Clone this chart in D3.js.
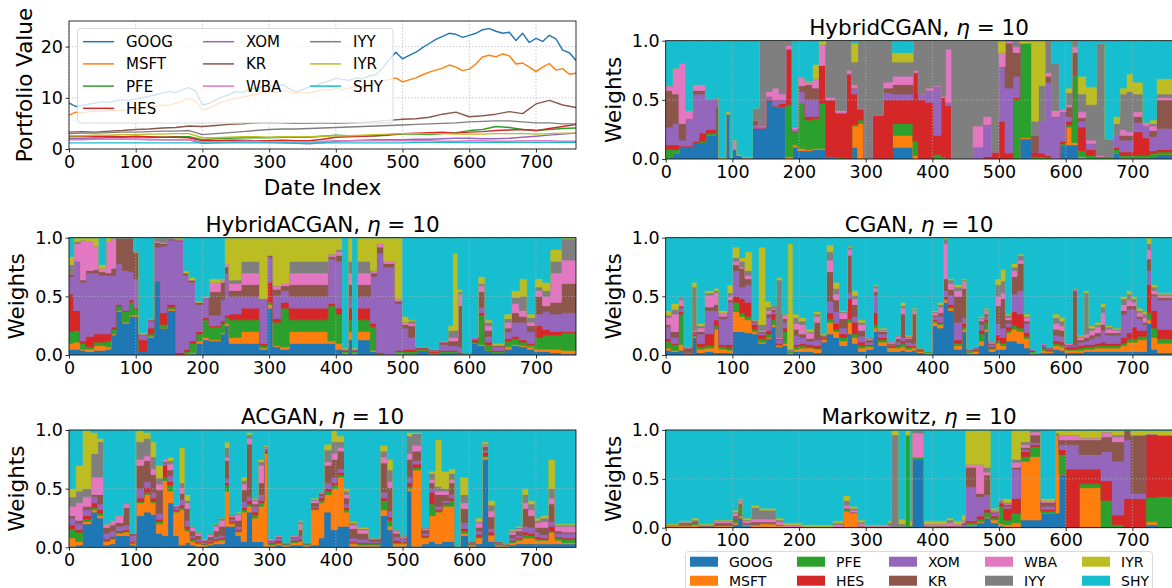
<!DOCTYPE html>
<html>
<head>
<meta charset="utf-8">
<script src="https://cdn.jsdelivr.net/npm/d3@7"></script>
<style>
  body { margin: 0; background: #fff; }
  svg { font-family: "DejaVu Sans", sans-serif; }
</style>
</head>
<body>
<svg id="fig" width="1172" height="588"></svg>
<script>
// ---------- assets ----------
const assets = ["GOOG", "MSFT", "PFE", "HES", "XOM", "KR", "WBA", "IYY", "IYR", "SHY"];
const assetColors = ["#1f77b4", "#ff7f0e", "#2ca02c", "#d62728", "#9467bd",
                     "#8c564b", "#e377c2", "#7f7f7f", "#bcbd22", "#17becf"];

// ---------- portfolio values (price paths) ----------
const days10 = d3.range(0, 761, 10);
const days20 = d3.range(0, 761, 20);

const valGOOG = [9.0,8.3,8.5,8.8,9.0,9.2,9.1,9.4,9.6,9.5, 9.8,10.0,10.3,10.6,10.9,11.2,11.0,11.6,12.0,11.3,
  8.6,8.9,9.6,10.2,10.6,11.2,11.0,11.6,11.9,12.2, 12.4,12.1,12.6,11.8,11.2,11.6,12.1,12.4,12.9,13.3,
  13.8,13.6,13.4,13.9,13.7,14.3,14.5,15.8,17.5,18.9, 17.6,18.3,18.9,19.8,20.6,21.4,22.0,22.6,22.4,21.8,
  22.2,22.6,23.3,23.5,23.0,22.6,22.8,21.2,22.6,20.8, 21.6,21.0,22.2,21.5,19.3,18.8,17.3];
const valMSFT = [6.6,7.2,7.1,7.3,7.4,7.3,7.5,7.6,7.5,7.7, 7.8,7.9,8.1,8.3,8.6,8.5,8.9,9.4,9.9,9.3,
  7.6,8.0,8.6,9.2,9.6,9.9,10.1,10.4,10.7,11.0, 11.2,11.0,11.4,11.2,10.9,11.1,11.0,11.3,11.6,11.5,
  11.8,11.6,11.9,12.2,12.0,12.5,12.9,13.3,13.6,13.9, 13.1,13.5,13.9,14.5,15.0,15.4,15.8,16.4,16.0,15.3,
  15.6,16.6,18.0,18.3,18.0,18.6,18.2,16.6,16.8,16.0, 15.1,16.0,16.7,15.4,15.7,14.6,14.8];
const valPFE = [2.4,2.4,2.4,2.3,2.3,2.4,2.3,2.3,2.4,2.4, 1.8,2.0,2.1,2.2,2.2,2.2,2.3,2.3,2.3,2.5,
  2.7,2.6,2.6,2.6,2.7,2.9,2.9,2.8,3.0,3.2, 3.6,3.8,4.4,4.2,3.8,3.6,3.8,4.0,4.1];
const valHES = [2.6,2.5,2.4,2.5,2.4,2.5,2.4,2.3,2.3,2.2, 1.6,1.6,1.7,1.7,1.6,1.6,1.7,1.6,1.6,1.9,
  2.3,2.4,2.5,2.6,2.8,3.0,3.1,3.2,3.3,3.1, 3.3,3.4,3.6,3.7,3.8,3.6,4.0,4.4,4.8];
const valXOM = [2.0,2.0,2.0,1.9,1.9,1.9,1.8,1.8,1.8,1.8, 1.1,1.2,1.3,1.4,1.4,1.3,1.2,1.1,1.0,1.2,
  1.5,1.6,1.7,1.8,1.8,1.8,1.9,1.9,2.0,2.1, 2.1,2.0,2.0,2.1,2.3,2.5,2.7,2.9,3.1];
const valKR = [3.3,3.4,3.3,3.5,3.6,3.8,3.9,4.1,4.2,4.5, 4.4,4.6,4.8,4.9,5.1,5.2,5.1,5.0,5.0,5.1,
  5.0,5.1,5.2,5.4,5.6,5.8,5.9,6.2,6.8,7.2, 6.3,6.5,6.8,7.3,6.9,8.8,9.5,8.6,8.1];
const valWBA = [1.8,1.8,1.9,1.9,1.9,1.9,1.9,1.8,1.8,1.8, 1.4,1.4,1.4,1.5,1.5,1.4,1.4,1.4,1.4,1.5,
  1.6,1.6,1.6,1.6,1.6,1.6,1.6,1.6,1.5,1.5, 1.6,1.6,1.5,1.5,1.6,1.6,1.6,1.5,1.5];
const valIYY = [3.0,3.1,3.1,3.2,3.3,3.3,3.4,3.5,3.5,3.6, 2.8,3.0,3.2,3.4,3.6,3.8,3.9,3.9,4.0,4.1,
  4.2,4.3,4.4,4.5,4.6,4.7,4.8,4.9,5.0,5.1, 5.3,5.4,5.5,5.5,5.3,5.1,5.1,4.9,4.9];
const valIYR = [2.6,2.6,2.7,2.7,2.8,2.8,2.9,2.9,3.0,3.0, 2.2,2.2,2.3,2.4,2.4,2.3,2.4,2.4,2.4,2.5,
  2.6,2.6,2.7,2.8,2.9,3.0,3.0,3.0,3.0,2.9, 2.9,2.9,3.0,3.0,3.0,2.9,3.0,3.1,3.1];
const valSHY = [1.2,1.2,1.2,1.2,1.2,1.2,1.2,1.2,1.2,1.2, 1.2,1.2,1.2,1.2,1.2,1.2,1.2,1.2,1.2,1.2,
  1.2,1.2,1.2,1.2,1.2,1.2,1.3,1.3,1.3,1.3, 1.3,1.3,1.3,1.3,1.3,1.3,1.3,1.3,1.3];

// ---------- portfolio weights, in percent ----------
// each row: [first day of holding period, GOOG, MSFT, PFE, HES, XOM, KR, WBA, IYY, IYR, SHY]
const wHybridCGAN = [
  [0, 0,0,8,4,15,31,4,0,0,38], [5, 2,0,6,4,15,31,4,0,0,38], [10, 5,0,3,4,18,25,22,0,0,23],
  [20, 10,0,0,1,5,14,51,0,0,19], [30, 10,0,0,1,23,0,7,0,0,59], [40, 14,0,0,1,40,3,5,0,0,37],
  [50, 14,0,1,7,33,3,5,0,0,37], [60, 20,0,2,3,26,0,0,0,0,49], [75, 44,0,0,0,7,0,1,0,0,48],
  [80, 0,0,0,0,0,0,0,0,1,99], [90, 38,0,0,0,0,0,0,0,2,60], [97, 0,0,0,0,0,0,0,0,0,100],
  [100, 8,0,0,0,0,0,7,0,1,84], [107, 3,0,0,0,0,0,0,0,1,96], [115, 1,0,0,0,0,0,0,0,1,98],
  [130, 25,0,0,1,3,4,0,10,0,57], [140, 26,0,0,0,1,0,1,72,0,0], [150, 50,0,0,0,3,0,4,43,0,0],
  [160, 45,0,0,0,5,0,10,40,0,0], [170, 44,0,0,3,3,0,5,45,0,0], [180, 0,2,44,47,0,0,3,4,0,0],
  [190, 10,2,11,0,2,0,2,0,0,73], [198, 7,2,38,0,10,5,7,0,0,31], [209, 7,1,25,3,14,13,2,0,1,34],
  [220, 8,1,25,2,14,10,8,0,12,20], [229, 8,1,38,32,0,0,18,0,3,0], [240, 2,0,0,48,0,0,2,48,0,0],
  [255, 0,0,1,38,0,0,2,59,0,0], [271, 0,0,0,72,0,0,3,25,0,0], [279, 10,18,1,26,5,0,3,19,16,2],
  [288, 0,30,3,9,1,0,0,57,0,0], [298, 0,0,0,0,0,0,0,100,0,0], [310, 0,0,0,37,0,0,0,63,0,0],
  [326, 0,0,0,50,6,4,5,35,0,0], [340, 10,10,10,20,5,8,7,12,8,10], [371, 0,3,12,58,0,0,2,25,0,0],
  [379, 0,0,0,50,5,0,0,45,0,0], [390, 0,0,0,48,10,0,2,40,0,0], [402, 0,0,4,16,41,0,1,38,0,0],
  [413, 0,0,2,50,0,0,1,47,0,0], [420, 0,0,0,45,3,0,45,7,0,0], [429, 0,0,0,0,0,0,0,100,0,0],
  [460, 0,0,0,0,10,0,18,72,0,0], [476, 0,0,0,2,27,0,7,64,0,0], [489, 0,0,0,6,0,0,0,94,0,0],
  [499, 0,0,0,32,46,0,12,0,10,0], [509, 0,0,0,5,55,38,2,0,0,0], [521, 0,0,50,2,18,20,5,5,0,0],
  [531, 17,1,80,0,0,0,0,0,2,0], [549, 0,0,2,4,0,14,0,12,68,0], [559, 0,0,2,3,27,0,0,30,38,0],
  [569, 0,0,1,2,62,5,3,27,0,0], [579, 0,0,0,0,36,0,5,40,0,19], [591, 12,0,1,2,25,0,2,0,0,58],
  [600, 12,15,2,3,4,8,2,10,4,40], [609, 12,2,57,1,0,18,5,5,0,0], [619, 1,1,5,20,5,3,5,15,15,30],
  [631, 0,0,3,5,5,0,3,30,15,39], [646, 0,0,2,0,0,0,1,95,0,2], [659, 0,0,2,0,0,0,0,15,0,83],
  [671, 5,0,3,2,10,0,0,10,6,64], [681, 1,0,2,3,10,4,5,30,5,40], [691, 1,0,2,3,10,4,3,34,15,28],
  [701, 1,0,2,20,8,5,4,15,10,35], [716, 1,0,2,15,10,0,3,0,0,69], [726, 2,0,3,2,12,5,4,2,3,67],
  [736, 4,0,2,2,18,24,2,3,13,32]
];

const wHybridACGAN = [
  [0, 5,5,10,32,15,2,0,8,7,16], [7, 5,6,10,17,42,0,15,2,3,0], [17, 4,1,5,2,50,2,34,0,2,0],
  [25, 3,2,2,9,54,2,25,0,3,0], [37, 4,4,3,7,52,3,20,0,7,0], [45, 4,4,3,7,50,3,3,0,3,23],
  [55, 5,2,5,6,50,2,27,0,3,0], [63, 17,1,4,2,44,6,26,0,0,0], [70, 37,1,4,1,35,22,0,0,0,0],
  [80, 27,1,9,1,34,28,0,0,0,0], [90, 33,1,11,2,24,29,0,0,0,0], [97, 33,1,5,1,25,23,0,0,0,12],
  [105, 3,0,0,10,5,0,0,0,1,81], [117, 15,1,2,5,6,1,1,0,0,69], [127, 63,0,0,0,29,4,1,3,0,0],
  [137, 23,0,3,10,57,2,1,4,0,0], [147, 38,1,2,2,55,1,1,0,0,0], [160, 0,0,0,2,95,1,1,0,1,0],
  [172, 0,1,2,2,63,2,0,0,2,28], [180, 1,1,8,2,50,2,0,0,2,34], [190, 10,2,6,2,23,2,0,0,1,54],
  [200, 13,2,15,2,17,0,0,0,1,50], [210, 12,1,11,1,9,20,8,0,3,35], [227, 18,1,8,2,18,15,2,0,1,35],
  [233, 25,2,5,2,36,5,3,0,22,0], [240, 10,5,15,5,15,5,6,3,36,0], [258, 10,10,10,10,10,10,10,10,20,0],
  [286, 5,1,2,2,38,0,0,0,52,0], [297, 40,3,2,17,21,2,0,0,15,0], [306, 7,1,20,3,20,5,3,0,41,0],
  [317, 5,2,33,5,10,4,2,0,39,0], [330, 10,10,10,10,10,10,10,10,20,0], [388, 10,2,30,2,38,2,2,0,14,0],
  [400, 5,5,25,5,40,5,3,2,10,0], [410, 1,1,1,1,1,0,0,0,1,94], [418, 13,7,10,10,10,10,10,10,20,0],
  [425, 1,1,1,1,1,0,0,0,1,94], [432, 13,7,10,10,10,10,10,10,20,0], [452, 3,1,20,3,40,3,2,0,28,0],
  [461, 0,0,1,1,85,5,3,0,5,0], [472, 0,0,0,0,75,3,2,0,20,0], [489, 1,1,1,1,40,2,2,0,52,0],
  [500, 1,0,2,2,18,3,2,0,5,67], [509, 1,0,2,2,10,10,2,2,1,70], [520, 4,0,1,1,1,0,0,0,0,93],
  [540, 1,0,1,1,1,1,0,0,0,95], [554, 2,0,1,1,5,2,1,0,0,88], [568, 2,0,1,1,4,4,3,6,4,75],
  [575, 2,0,1,1,4,4,3,6,66,13], [583, 1,0,0,1,5,35,10,2,2,44], [590, 1,0,1,0,0,0,0,0,0,98],
  [603, 10,0,1,2,2,0,0,0,0,85], [613, 8,1,25,2,5,13,5,2,6,33], [624, 4,0,5,2,5,5,4,3,2,70],
  [635, 2,0,1,1,3,1,1,0,1,90], [652, 5,2,5,2,6,3,5,3,4,65], [663, 8,1,5,2,12,8,8,5,6,45],
  [675, 7,1,3,2,15,5,5,12,15,35], [687, 5,2,2,1,10,5,3,4,3,65], [698, 3,2,10,10,10,15,5,3,7,35],
  [710, 3,2,12,5,15,5,8,5,7,38], [721, 2,3,12,3,15,10,25,10,10,10], [738, 1,3,15,1,16,25,20,18,1,0]
];

const wCGAN = [
  [0, 4,2,6,2,10,2,6,2,4,62], [8, 3,1,5,1,5,5,15,4,5,56], [19, 4,5,26,2,3,2,5,2,0,51],
  [28, 1,0,0,0,1,4,1,0,0,93], [39, 15,1,1,1,1,1,1,37,4,38], [47, 2,3,2,3,8,2,3,2,2,73],
  [58, 3,3,2,10,20,3,10,2,2,45], [72, 2,20,3,5,8,5,10,2,2,43], [80, 2,3,2,2,22,2,3,0,2,62],
  [92, 2,2,2,3,36,2,3,3,7,40], [100, 20,17,8,5,22,5,3,3,9,8], [111, 20,13,3,12,10,16,1,5,3,17],
  [119, 19,11,3,12,15,5,3,4,16,12], [130, 18,2,2,4,2,1,1,0,0,70], [139, 10,1,3,3,2,1,1,5,66,8],
  [150, 14,1,3,3,11,3,3,3,5,54], [158, 24,2,4,5,2,2,1,2,0,58], [166, 7,1,1,1,3,1,1,49,2,34],
  [175, 8,2,10,3,5,3,3,1,0,65], [183, 1,1,1,0,0,0,0,2,90,5], [191, 3,2,2,2,8,5,5,5,3,65],
  [200, 3,3,2,2,5,3,8,3,3,68], [211, 3,3,1,2,3,2,5,1,2,78], [222, 2,3,1,2,5,15,5,2,2,63],
  [233, 11,2,1,1,1,1,0,0,1,82], [241, 18,10,3,5,10,25,10,7,6,6], [252, 15,5,2,5,10,10,5,5,5,38],
  [261, 8,4,3,3,5,8,5,1,1,62], [272, 18,10,3,17,5,32,5,2,1,7], [280, 10,5,3,10,5,10,5,3,4,45],
  [289, 3,3,2,3,5,5,5,2,2,70], [300, 5,2,1,1,2,2,1,1,0,85], [311, 20,3,3,10,15,3,3,2,1,40],
  [319, 8,3,2,2,3,2,1,1,1,77], [333, 3,3,1,1,1,1,1,1,0,88], [344, 3,3,2,1,2,3,2,1,0,83],
  [352, 4,3,3,2,3,20,5,2,3,55], [360, 3,2,2,1,3,3,1,1,1,83], [369, 4,2,1,1,2,25,3,1,1,60],
  [377, 2,1,1,1,1,0,0,0,0,94], [388, 1,1,1,0,0,0,0,0,0,97], [399, 25,3,1,1,3,1,2,1,1,62],
  [408, 23,3,1,1,5,3,5,2,2,55], [416, 45,2,1,2,5,10,30,4,1,0], [424, 38,2,1,2,8,5,5,3,1,35],
  [433, 5,3,2,3,15,22,5,3,2,40], [444, 20,2,2,3,5,25,6,1,1,35], [452, 1,1,1,0,1,1,0,0,0,95],
  [460, 1,2,1,1,1,1,0,0,0,93], [469, 8,4,6,3,5,3,2,1,1,67], [477, 20,2,6,2,3,2,3,1,1,60],
  [485, 3,2,1,1,2,1,1,1,0,88], [494, 5,5,2,5,10,15,8,10,5,35], [502, 5,3,2,5,8,25,5,10,10,27],
  [510, 12,7,2,3,3,3,2,2,1,65], [518, 12,10,3,12,15,15,5,3,3,22], [527, 10,10,3,12,20,23,3,4,1,14],
  [538, 6,8,2,3,8,2,3,1,2,65], [547, 1,1,1,1,1,0,0,0,0,95], [555, 1,1,0,0,0,0,0,0,0,98],
  [563, 2,2,2,1,1,1,1,0,0,90], [571, 2,1,1,1,1,1,0,0,0,93], [580, 5,3,2,2,5,5,5,5,3,65],
  [591, 4,3,2,2,5,5,4,4,3,68], [599, 2,2,1,2,1,1,1,0,0,90], [610, 2,2,1,2,1,47,1,1,0,43],
  [618, 2,2,2,2,3,2,2,1,1,83], [627, 3,2,2,2,3,3,3,35,2,45], [635, 3,2,2,2,5,3,4,2,2,75],
  [643, 3,3,2,2,6,3,5,2,2,72], [652, 3,3,2,3,10,5,10,5,3,56], [660, 3,3,2,2,7,2,3,2,1,75],
  [671, 3,3,2,2,7,2,2,1,1,77], [682, 3,5,2,5,20,3,5,5,2,50], [691, 3,8,3,5,20,3,5,5,3,45],
  [699, 3,8,3,10,15,3,3,3,2,50], [707, 3,10,3,5,10,2,3,2,2,60], [716, 3,10,3,5,5,2,4,3,2,63],
  [721, 27,3,6,24,12,10,8,5,5,0], [729, 5,10,8,15,12,2,3,3,2,40], [738, 2,8,4,8,25,2,2,1,1,47]
];

const wACGAN = [
  [0, 1,7,8,3,6,2,8,8,7,50], [10, 2,3,8,2,5,3,15,10,22,30], [20, 20,2,2,3,5,3,8,7,50,0],
  [33, 30,2,2,4,5,2,15,20,18,2], [43, 25,2,2,3,5,8,15,30,3,7], [52, 2,3,1,1,5,5,3,0,0,80],
  [61, 3,4,1,1,5,5,4,0,0,77], [69, 10,2,1,1,4,3,6,0,0,73], [81, 10,3,1,1,4,15,3,1,0,62],
  [92, 2,1,1,1,5,2,0,0,0,88], [100, 27,11,1,3,8,20,5,15,10,0], [112, 30,15,2,4,5,18,4,15,5,2],
  [123, 28,10,1,3,5,15,5,10,13,10], [131, 12,8,2,2,5,20,5,5,11,30], [140, 10,47,3,10,2,1,2,0,0,25],
  [148, 38,10,5,3,5,5,5,3,3,23], [157, 10,20,1,1,2,1,1,0,0,64], [165, 2,30,2,2,5,5,5,4,30,15],
  [174, 4,10,2,2,5,10,5,2,5,55], [182, 2,3,2,1,2,4,3,1,0,82], [190, 1,2,1,1,2,3,2,1,0,87],
  [199, 1,1,1,0,1,2,1,0,0,93], [207, 2,1,1,1,1,3,2,1,0,88], [216, 3,2,1,1,2,5,4,2,0,80],
  [224, 3,3,1,1,2,8,5,2,0,75], [233, 18,30,5,2,4,15,3,8,5,10], [241, 18,2,1,1,2,2,1,1,0,72],
  [250, 10,3,1,1,3,5,5,1,1,70], [258, 5,25,2,2,5,10,5,3,3,40], [266, 30,5,2,3,3,45,5,3,2,2],
  [275, 5,20,3,2,5,2,3,1,1,58], [283, 5,30,3,2,5,10,15,3,2,25], [292, 1,79,1,1,1,1,1,1,1,13],
  [299, 1,1,1,1,1,1,1,0,0,93], [309, 2,1,1,2,2,1,1,0,0,90], [320, 1,1,1,0,1,0,0,0,0,96],
  [331, 2,2,1,1,2,1,1,0,0,90], [343, 2,3,1,1,3,5,5,2,1,77], [351, 1,1,1,0,1,0,0,0,0,96],
  [362, 2,30,1,1,1,3,2,1,1,58], [374, 8,30,2,2,2,2,1,1,0,52], [382, 30,15,3,2,5,15,3,10,5,12],
  [393, 15,35,3,2,5,15,5,10,10,0], [402, 18,42,2,2,3,15,3,5,5,5], [413, 18,12,2,2,3,5,3,3,2,50],
  [421, 1,2,1,1,3,8,3,2,1,78], [433, 1,1,1,1,3,5,3,1,1,83], [450, 1,1,1,1,1,2,1,0,0,92],
  [466, 27,5,8,2,5,25,5,5,5,13], [478, 15,3,5,3,5,20,5,10,9,25], [486, 1,2,1,2,3,3,2,1,0,85],
  [497, 1,2,1,1,2,1,1,1,0,90], [506, 48,2,2,3,5,15,5,15,3,2], [514, 1,65,2,3,3,8,5,10,1,2],
  [529, 3,5,1,1,2,3,1,1,0,83], [539, 5,22,10,10,3,5,3,5,2,35], [549, 3,27,1,1,3,10,3,4,40,8],
  [559, 5,30,2,1,2,5,3,2,15,35], [569, 5,30,5,2,3,10,3,5,4,33], [579, 1,0,0,0,0,0,0,0,0,99],
  [586, 10,2,2,2,5,12,5,7,15,40], [599, 1,1,1,0,1,1,0,0,0,95], [609, 3,5,1,2,3,3,4,1,3,75],
  [619, 75,2,1,3,2,3,1,1,2,10], [629, 5,5,1,2,3,10,5,5,4,60], [639, 1,1,1,0,1,1,0,0,0,95],
  [651, 1,1,0,0,0,1,0,0,0,97], [659, 2,2,1,1,2,3,2,1,1,85], [669, 3,3,1,1,2,4,2,1,1,82],
  [679, 3,5,3,2,5,15,5,7,5,50], [689, 3,5,2,2,5,10,5,5,3,60], [699, 3,3,1,2,4,4,4,2,2,75],
  [706, 3,3,1,1,3,6,5,3,2,73], [718, 3,10,1,4,4,15,5,8,25,25], [729, 3,3,2,1,3,2,4,1,1,80],
  [739, 3,1,3,1,4,1,5,1,1,80]
];

const wMarkowitz = [
  [0, 0,2,1,0,0,0,0,0,1,96], [19, 0,2,2,0,0,1,1,0,1,93], [39, 1,2,2,0,0,2,0,1,2,90],
  [50, 0,1,1,0,0,0,1,0,1,96], [72, 1,1,1,0,0,2,2,0,1,92], [100, 3,2,3,1,1,2,3,1,2,82],
  [108, 10,2,10,1,1,1,3,1,1,70], [116, 2,1,1,0,0,1,2,1,2,90], [128, 1,2,1,0,0,2,3,12,2,77],
  [141, 1,3,1,0,0,1,3,9,2,80], [166, 0,2,1,0,0,0,3,2,2,90], [177, 0,1,0,0,0,0,2,0,2,95],
  [205, 0,0,0,0,0,0,1,0,2,97], [250, 0,1,0,0,0,0,2,2,2,93], [266, 0,17,2,1,0,0,3,5,5,67],
  [277, 0,15,1,0,0,0,2,2,2,78], [288, 0,2,0,0,0,0,2,2,2,92], [299, 0,1,0,0,0,0,1,0,1,97],
  [333, 0,0,0,0,0,0,2,3,2,93], [338, 0,0,0,0,0,0,0,95,5,0], [350, 0,0,0,0,0,0,0,4,5,91],
  [359, 0,0,95,0,0,0,0,0,5,0], [367, 0,0,2,0,0,0,0,0,5,93], [369, 70,0,2,0,0,0,25,3,0,0],
  [388, 0,1,1,0,0,0,2,0,3,93], [421, 0,0,0,0,0,2,3,3,2,90], [432, 0,1,1,0,0,0,2,0,3,93],
  [444, 0,1,0,0,2,2,3,0,5,87], [449, 2,1,2,2,35,20,3,0,35,0], [466, 5,1,3,3,20,3,30,0,35,0],
  [477, 10,1,5,3,15,20,3,5,38,0], [488, 5,3,2,2,3,1,1,1,2,80], [499, 2,2,18,3,1,1,1,1,1,70],
  [507, 1,2,5,12,2,2,1,1,4,70], [518, 0,5,10,15,30,2,5,3,30,0], [532, 8,60,5,5,2,2,3,3,12,0],
  [546, 8,65,10,2,2,8,3,2,0,0], [563, 15,0,2,2,3,4,2,0,2,70], [584, 15,80,2,0,0,0,0,0,3,0],
  [590, 55,0,20,5,5,5,5,0,5,0], [601, 0,0,0,60,25,5,5,0,5,0], [620, 0,41,4,15,15,15,2,0,8,0],
  [653, 0,0,28,20,30,15,5,0,2,0], [670, 0,0,3,10,55,20,5,2,5,0], [687, 0,0,0,30,60,10,0,0,0,0],
  [698, 0,0,0,30,5,60,0,0,5,0], [720, 3,3,25,65,0,0,0,0,4,0], [738, 0,0,32,63,0,0,0,0,5,0]
];

const dayTicks = [0, 100, 200, 300, 400, 500, 600, 700];
const valueTicks = [0, 10, 20];
const weightTicks = [0, 0.5, 1];

// ---------- figure ----------
const svg = d3.select("#fig");
const color = d3.scaleOrdinal().domain(assets).range(assetColors);
const FONT = "DejaVu Sans";
const TICK_FS = 17.5, LABEL_FS = 21.5;

const boxes = {
  values:       {x0: 69,    x1: 576,    y0: 21,    y1: 149},
  hybridCgan:   {x0: 665.7, x1: 1172.4, y0: 40.7,  y1: 159},
  hybridAcgan:  {x0: 69,    x1: 576,    y0: 237.7, y1: 355},
  cgan:         {x0: 665.7, x1: 1172.4, y0: 237.7, y1: 355},
  acgan:        {x0: 69,    x1: 576,    y0: 430,   y1: 547.3},
  markowitz:    {x0: 665.7, x1: 1172.4, y0: 430,   y1: 527.7}
};

let clipCount = 0;
function addClip(box) {
  const id = "clip" + (clipCount++);
  svg.append("clipPath").attr("id", id).append("rect")
    .attr("x", box.x0).attr("y", box.y0)
    .attr("width", box.x1 - box.x0).attr("height", box.y1 - box.y0);
  return id;
}

function addGrid(g, x, y, box, yTicks) {
  const grid = g.append("g").attr("stroke", "#b0b0b0").attr("stroke-width", 0.8)
    .attr("stroke-dasharray", "1.2,2");
  dayTicks.forEach(t => grid.append("line").attr("x1", x(t)).attr("x2", x(t))
    .attr("y1", box.y0).attr("y2", box.y1));
  yTicks.forEach(t => grid.append("line").attr("x1", box.x0).attr("x2", box.x1)
    .attr("y1", y(t)).attr("y2", y(t)));
}

function addAxes(g, x, y, box, yTicks, yFormat) {
  const gx = g.append("g").attr("transform", `translate(0,${box.y1})`)
    .call(d3.axisBottom(x).tickValues(dayTicks).tickSize(3.5).tickPadding(2.6)
      .tickFormat(d3.format("d")));
  const gy = g.append("g").attr("transform", `translate(${box.x0},0)`)
    .call(d3.axisLeft(y).tickValues(yTicks).tickSize(3.5).tickPadding(2.5)
      .tickFormat(yFormat));
  [gx, gy].forEach(a => {
    a.select(".domain").remove();
    a.attr("font-size", TICK_FS).attr("font-family", FONT);
    a.selectAll("line").attr("stroke", "#000").attr("stroke-width", 0.8);
    a.selectAll("text").attr("fill", "#000");
  });
  gy.selectAll("text").attr("dy", "0.34em");
  g.append("rect").attr("x", box.x0).attr("y", box.y0)
    .attr("width", box.x1 - box.x0).attr("height", box.y1 - box.y0)
    .attr("fill", "none").attr("stroke", "#000").attr("stroke-width", 0.8);
}

function addYLabel(g, text, cx, box) {
  const cy = (box.y0 + box.y1) / 2;
  g.append("text").attr("transform", `translate(${cx},${cy}) rotate(-90)`)
    .attr("text-anchor", "middle").attr("dy", "0.36em")
    .attr("font-size", LABEL_FS).attr("font-family", FONT).text(text);
}

function addTitle(g, name, box) {
  const t = g.append("text").attr("x", (box.x0 + box.x1) / 2).attr("y", box.y0 - 6)
    .attr("text-anchor", "middle").attr("font-size", LABEL_FS).attr("font-family", FONT);
  t.append("tspan").text(name + ", ");
  t.append("tspan").attr("font-style", "italic").text("\u03b7");
  t.append("tspan").text(" = 10");
}

// ---------- portfolio value lines ----------
(function drawValues() {
  const box = boxes.values;
  const g = svg.append("g");
  const x = d3.scaleLinear().domain([0, 760]).range([box.x0, box.x1]);
  const y = d3.scaleLinear().domain([0, 25]).range([box.y1, box.y0]);
  const seriesList = [
    {name: "GOOG", days: days10, vals: valGOOG}, {name: "MSFT", days: days10, vals: valMSFT},
    {name: "PFE", days: days20, vals: valPFE}, {name: "HES", days: days20, vals: valHES},
    {name: "XOM", days: days20, vals: valXOM}, {name: "KR", days: days20, vals: valKR},
    {name: "WBA", days: days20, vals: valWBA}, {name: "IYY", days: days20, vals: valIYY},
    {name: "IYR", days: days20, vals: valIYR}, {name: "SHY", days: days20, vals: valSHY}
  ];
  addGrid(g, x, y, box, valueTicks);
  const clip = addClip(box);
  const line = d3.line().x(d => x(d[0])).y(d => y(d[1]));
  const lg = g.append("g").attr("clip-path", `url(#${clip})`);
  seriesList.forEach(s => {
    lg.append("path").datum(s.days.map((d, i) => [d, s.vals[i]]))
      .attr("fill", "none").attr("stroke", color(s.name)).attr("stroke-width", 1.4)
      .attr("stroke-linejoin", "round").attr("d", line);
  });

  // legend (3 columns, semi-transparent frame)
  const leg = g.append("g");
  leg.append("rect").attr("x", 77.5).attr("y", 28.5).attr("width", 315.5).attr("height", 94.5)
    .attr("rx", 3).attr("fill", "rgba(255,255,255,0.8)").attr("stroke", "#d0d0d0").attr("stroke-width", 0.8);
  const cols = [["GOOG", "MSFT", "PFE", "HES"], ["XOM", "KR", "WBA"], ["IYY", "IYR", "SHY"]];
  const colX = [83, 203, 310];
  const rowY = [41.7, 63.9, 86.1, 108.3];
  cols.forEach((col, ci) => col.forEach((name, ri) => {
    leg.append("line").attr("x1", colX[ci]).attr("x2", colX[ci] + 31)
      .attr("y1", rowY[ri]).attr("y2", rowY[ri])
      .attr("stroke", color(name)).attr("stroke-width", 1.5);
    leg.append("text").attr("x", colX[ci] + 43).attr("y", rowY[ri]).attr("dy", "0.36em")
      .attr("font-size", 15).attr("font-family", FONT).text(name);
  }));

  addAxes(g, x, y, box, valueTicks, d3.format("d"));
  addYLabel(g, "Portfolio Value", 24, box);
  g.append("text").attr("x", (box.x0 + box.x1) / 2).attr("y", 195)
    .attr("text-anchor", "middle").attr("font-size", LABEL_FS).attr("font-family", FONT)
    .text("Date Index");
})();

// ---------- stacked weight panels ----------
function drawWeights(box, name, rows, labelX) {
  const g = svg.append("g");
  const x = d3.scaleLinear().domain([0, 760]).range([box.x0, box.x1]);
  const y = d3.scaleLinear().domain([0, 1]).range([box.y1, box.y0]);
  const recs = rows.map(r => {
    const o = {day: r[0]};
    assets.forEach((a, i) => { o[a] = r[i + 1] / 100; });
    return o;
  });
  recs.push(Object.assign({}, recs[recs.length - 1], {day: 760}));
  const layers = d3.stack().keys(assets)(recs);
  const area = d3.area().curve(d3.curveStepAfter)
    .x(d => x(d.data.day)).y0(d => y(d[0])).y1(d => y(d[1]));
  const clip = addClip(box);
  g.append("g").attr("clip-path", `url(#${clip})`)
    .selectAll("path").data(layers).join("path")
    .attr("fill", d => color(d.key)).attr("stroke", d => color(d.key))
    .attr("stroke-width", 1).attr("stroke-opacity", 0.8).attr("d", area);
  addGrid(g, x, y, box, weightTicks);
  addAxes(g, x, y, box, weightTicks, d3.format(".1f"));
  addYLabel(g, "Weights", labelX, box);
  addTitle(g, name, box);
}

drawWeights(boxes.hybridCgan, "HybridCGAN", wHybridCGAN, 613.5);
drawWeights(boxes.hybridAcgan, "HybridACGAN", wHybridACGAN, 16);
drawWeights(boxes.cgan, "CGAN", wCGAN, 613.5);
drawWeights(boxes.acgan, "ACGAN", wACGAN, 16);
drawWeights(boxes.markowitz, "Markowitz", wMarkowitz, 613.5);

// ---------- shared legend for the weight panels ----------
(function drawAssetLegend() {
  const leg = svg.append("g");
  leg.append("rect").attr("x", 685.5).attr("y", 551.5).attr("width", 467).attr("height", 60)
    .attr("rx", 3).attr("fill", "rgba(255,255,255,0.8)").attr("stroke", "#d0d0d0").attr("stroke-width", 0.8);
  const colX = [690, 797, 889, 985, 1082];
  const rowY = [561.7, 580.7];
  assets.forEach((a, i) => {
    const ci = Math.floor(i / 2), ri = i % 2;
    leg.append("rect").attr("x", colX[ci]).attr("y", rowY[ri] - 5)
      .attr("width", 28).attr("height", 10).attr("fill", color(a));
    leg.append("text").attr("x", colX[ci] + 39).attr("y", rowY[ri]).attr("dy", "0.36em")
      .attr("font-size", 14).attr("font-family", FONT).text(a);
  });
})();
</script>
</body>
</html>
